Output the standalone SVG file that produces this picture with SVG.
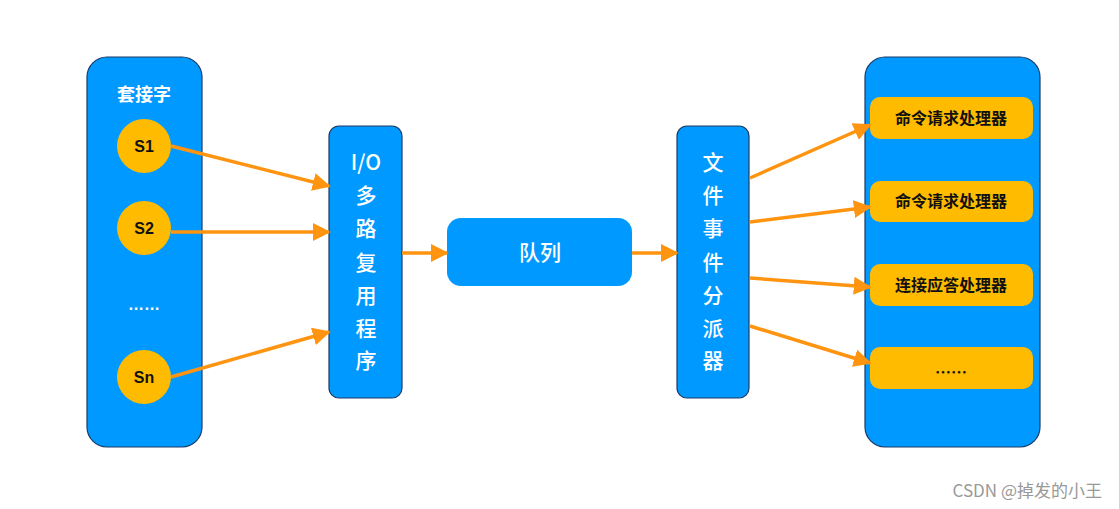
<svg xmlns="http://www.w3.org/2000/svg" width="1119" height="509" viewBox="0 0 1119 509">
<style>
.blue{fill:#0099ff;stroke:#1a3a66;stroke-width:1.2}
.yel{fill:#ffbb00}
.wt{fill:#fff;font-family:"Noto Sans CJK SC","Liberation Sans",sans-serif;font-size:21px;font-weight:500;text-anchor:middle}
.bt{fill:#111;font-family:"Liberation Sans","Noto Sans CJK SC",sans-serif;font-weight:bold;font-size:16px;text-anchor:middle}
.ht{fill:#111;font-family:"Noto Sans CJK SC",sans-serif;font-weight:bold;font-size:16px;text-anchor:middle}
</style>
<defs><marker id="a2" viewBox="0 0 10 10" refX="9" refY="5" markerWidth="18" markerHeight="18" orient="auto" markerUnits="userSpaceOnUse"><path d="M0,0L10,5L0,10Z" fill="#ff9411"/></marker></defs>
<rect width="1119" height="509" fill="#fff"/>
<g id="sockets">
<rect class="blue" x="87" y="57" width="115" height="390" rx="20"/>
<text class="wt" x="144" y="101" font-size="18" style="font-size:18px;font-weight:bold">套接字</text>
<circle class="yel" cx="144" cy="146" r="27"/><text class="bt" x="144" y="152">S1</text>
<circle class="yel" cx="144" cy="228" r="27"/><text class="bt" x="144" y="234">S2</text>
<text class="bt" x="144" y="310" style="fill:#fff">……</text>
<circle class="yel" cx="144" cy="377" r="27"/><text class="bt" x="144" y="383">Sn</text>
</g>
<g id="io">
<rect class="blue" x="329" y="126" width="73" height="272" rx="10"/>
<text class="wt" x="366" y="170">I/O</text>
<text class="wt" x="366" y="203">多</text><text class="wt" x="366" y="236">路</text><text class="wt" x="366" y="270">复</text><text class="wt" x="366" y="303">用</text><text class="wt" x="366" y="336">程</text><text class="wt" x="366" y="368">序</text>
</g>
<g id="queue">
<rect class="blue" x="447" y="218" width="185" height="68" rx="14" style="stroke:none"/>
<text class="wt" x="540" y="260">队列</text>
</g>
<g id="dispatcher">
<rect class="blue" x="677" y="126" width="72" height="272" rx="10"/>
<text class="wt" x="713" y="170">文</text><text class="wt" x="713" y="203">件</text><text class="wt" x="713" y="236">事</text><text class="wt" x="713" y="270">件</text><text class="wt" x="713" y="303">分</text><text class="wt" x="713" y="336">派</text><text class="wt" x="713" y="368">器</text>
</g>
<g id="handlers">
<rect class="blue" x="865" y="57" width="175" height="390" rx="20"/>
<rect class="yel" x="870" y="97" width="163" height="42" rx="10"/><text class="ht" x="951" y="124">命令请求处理器</text>
<rect class="yel" x="870" y="181" width="163" height="41" rx="10"/><text class="ht" x="951" y="207">命令请求处理器</text>
<rect class="yel" x="870" y="264" width="163" height="42" rx="10"/><text class="ht" x="951" y="291">连接应答处理器</text>
<rect class="yel" x="870" y="347" width="163" height="42" rx="10"/><text class="ht" x="951" y="378">……</text>
</g>
<g id="connectors" style="stroke:#ff9411;stroke-width:3.5;fill:none">
<path d="M171,146L329,186" marker-end="url(#a2)"/>
<path d="M171,232L329,232" marker-end="url(#a2)"/>
<path d="M171,377L329,332" marker-end="url(#a2)"/>
<path d="M402,253L447,253" marker-end="url(#a2)"/>
<path d="M632,253L677,253" marker-end="url(#a2)"/>
<path d="M750,178L870,125" marker-end="url(#a2)"/>
<path d="M750,222L870,207" marker-end="url(#a2)"/>
<path d="M750,278L870,287" marker-end="url(#a2)"/>
<path d="M750,326L870,363" marker-end="url(#a2)"/>
</g>
<text x="1102" y="497" text-anchor="end" fill="#999" font-family="Noto Sans CJK SC,Liberation Sans,sans-serif" font-size="17">CSDN @掉发的小王</text>
</svg>
